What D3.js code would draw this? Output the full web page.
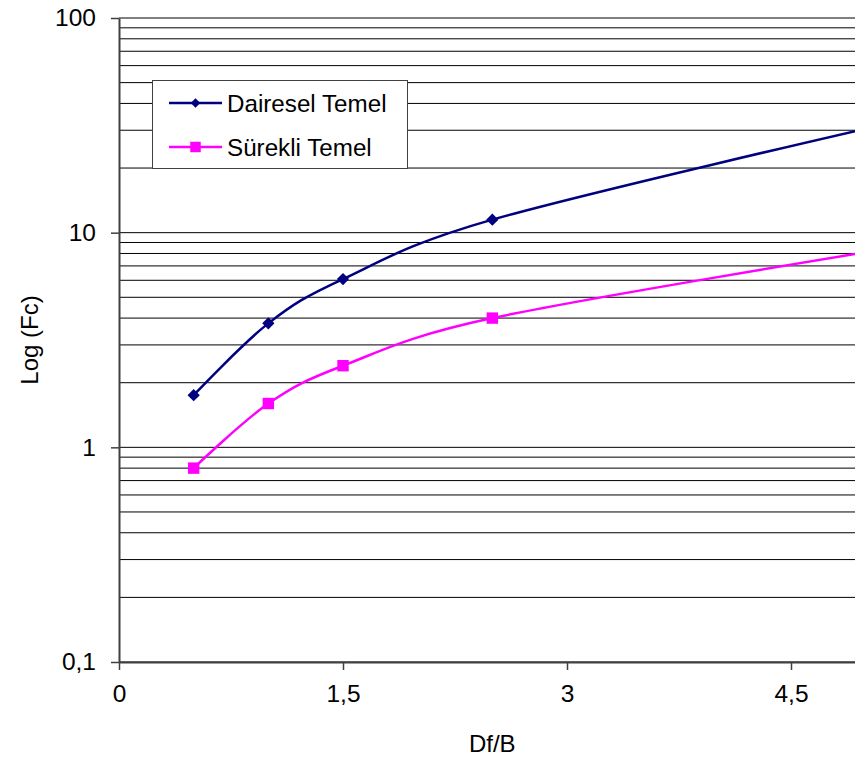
<!DOCTYPE html>
<html>
<head>
<meta charset="utf-8">
<script src="https://cdn.jsdelivr.net/npm/d3@7"></script>
<style>
  html, body { margin: 0; padding: 0; background: #fff; }
  svg { display: block; font-family: "Liberation Sans", Arial, sans-serif; }
</style>
</head>
<body>
<svg id="chart" width="855" height="763"></svg>
<script>
// Df/B ratios and bearing-capacity factors (log scale)
const dfB = [0.5, 1, 1.5, 2.5, 5];
const dairesel = [1.75, 3.78, 6.08, 11.5, 30.5];
const surekli = [0.80, 1.60, 2.40, 4.0, 8.1];
const seriesNames = ["Dairesel Temel", "Sürekli Temel"];
const xTicks = [0, 1.5, 3, 4.5];
const yTicks = [0.1, 1, 10, 100];

const svg = d3.select("#chart");
const W = 855, H = 763;
svg.append("rect").attr("width", W).attr("height", H).attr("fill", "#fff");

const x = d3.scaleLinear().domain([0, 5]).range([119, 865.67]);
const y = d3.scaleLog().domain([0.1, 100]).range([662, 18]);
const fmt = v => String(v).replace(".", ",");

// horizontal gridlines at every log step
const gridVals = [];
[0.1, 1, 10].forEach(d => { for (let k = 1; k <= 9; k++) gridVals.push(+(d * k).toFixed(3)); });
gridVals.push(100);
svg.append("g").selectAll("line").data(gridVals).join("line")
  .attr("x1", x(0)).attr("x2", x(5))
  .attr("y1", d => y(d)).attr("y2", d => y(d))
  .attr("stroke", "#000").attr("stroke-width", 1);

// axes
const yAxis = svg.append("g").attr("transform", `translate(${x(0)},0)`)
  .call(d3.axisLeft(y).tickValues(yTicks).tickFormat(fmt).tickSize(8).tickSizeOuter(0).tickPadding(15));
const xAxis = svg.append("g").attr("transform", `translate(0,${y(0.1)})`)
  .call(d3.axisBottom(x).tickValues(xTicks).tickFormat(fmt).tickSize(8).tickSizeOuter(0).tickPadding(15));
[xAxis, yAxis].forEach(g => {
  g.select(".domain").attr("stroke", "#404040").attr("stroke-width", 2);
  g.selectAll(".tick line").attr("stroke", "#404040").attr("stroke-width", 1.5);
  g.selectAll(".tick text").attr("fill", "#000").style("font-size", "24.5px")
    .style("font-family", "'Liberation Sans', Arial, sans-serif");
});

// axis titles
svg.append("text").attr("x", 492.3).attr("y", 752).attr("text-anchor", "middle")
  .style("font-size", "24px").text("Df/B");
svg.append("text").attr("transform", `translate(38,340) rotate(-90)`).attr("text-anchor", "middle")
  .style("font-size", "24px").text("Log (Fc)");

// series: diamond = square rotated 45°
const series = [
  { name: seriesNames[0], values: dairesel, color: "#000080", rot: 45, size: 75, lsize: 45 },
  { name: seriesNames[1], values: surekli, color: "#FF00FF", rot: 0, size: 130, lsize: 110 }
];
const line = d3.line().x(d => x(d[0])).y(d => y(d[1])).curve(d3.curveCatmullRom.alpha(0));
series.forEach(s => {
  const pts = dfB.map((v, i) => [v, s.values[i]]);
  svg.append("path").datum(pts).attr("d", line)
    .attr("fill", "none").attr("stroke", s.color).attr("stroke-width", 2.5);
  svg.append("g").selectAll("path").data(pts).join("path")
    .attr("transform", d => `translate(${x(d[0])},${y(d[1])}) rotate(${s.rot})`)
    .attr("d", d3.symbol().type(d3.symbolSquare).size(s.size))
    .attr("fill", s.color);
});

// legend
const lg = svg.append("g");
lg.append("rect").attr("x", 152.5).attr("y", 80.5).attr("width", 255).attr("height", 88)
  .attr("fill", "#fff").attr("stroke", "#404040").attr("stroke-width", 1);
series.forEach((s, i) => {
  const cy = 103 + i * 44;
  lg.append("line").attr("x1", 169).attr("x2", 222).attr("y1", cy).attr("y2", cy)
    .attr("stroke", s.color).attr("stroke-width", 2.5);
  lg.append("path").attr("transform", `translate(195.5,${cy}) rotate(${s.rot})`)
    .attr("d", d3.symbol().type(d3.symbolSquare).size(s.lsize)).attr("fill", s.color);
  lg.append("text").attr("x", 227).attr("y", cy + 8.5).style("font-size", "24.2px").text(s.name);
});
</script>
</body>
</html>
